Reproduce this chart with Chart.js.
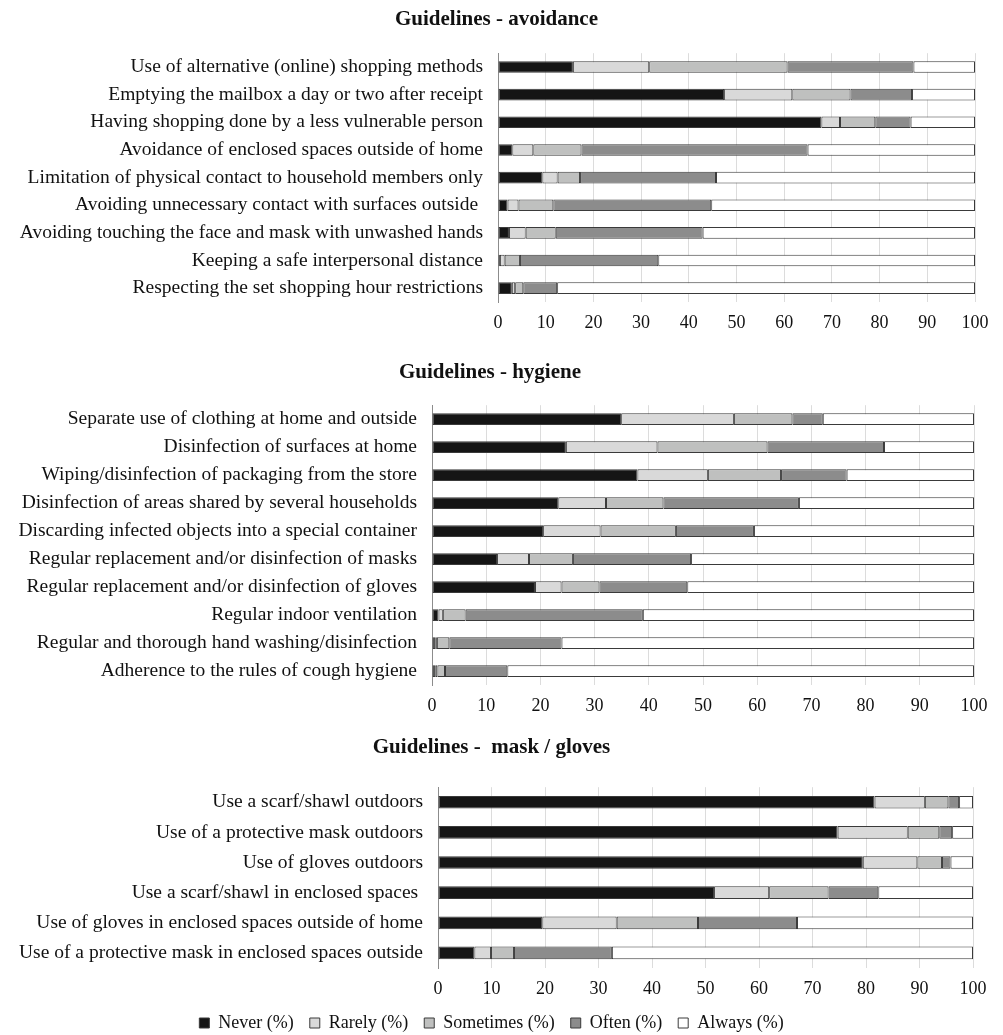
<!DOCTYPE html>
<html>
<head>
<meta charset="utf-8">
<script src="https://cdn.jsdelivr.net/npm/chart.js@4.4.1/dist/chart.umd.min.js"></script>
<style>
    html, body { margin: 0; padding: 0; background: #fff; overflow: hidden; }
    .box { position: absolute; left: 0; width: 1003px; }
</style>
</head>
<body>
<div class="box" style="top:0;height:345px"><canvas id="avoidChart"></canvas></div>
<div class="box" style="top:345px;height:375px"><canvas id="hygieneChart"></canvas></div>
<div class="box" style="top:720px;height:322px"><canvas id="maskChart"></canvas></div>
<script>
// Series names and x ticks
const seriesNames = ['Never (%)', 'Rarely (%)', 'Sometimes (%)', 'Often (%)', 'Always (%)'];
const xTicks = [0, 10, 20, 30, 40, 50, 60, 70, 80, 90, 100];

// Guidelines - avoidance
const avoidLabels = [
    'Use of alternative (online) shopping methods',
    'Emptying the mailbox a day or two after receipt',
    'Having shopping done by a less vulnerable person',
    'Avoidance of enclosed spaces outside of home',
    'Limitation of physical contact to household members only',
    'Avoiding unnecessary contact with surfaces outside ',
    'Avoiding touching the face and mask with unwashed hands',
    'Keeping a safe interpersonal distance',
    'Respecting the set shopping hour restrictions'
];
const avoidNever = [15.7, 47.4, 67.8, 3.0, 9.3, 2.0, 2.3, 0.4, 2.9];
const avoidRarely = [16.0, 14.3, 3.9, 4.4, 3.2, 2.3, 3.5, 1.0, 0.7];
const avoidSometimes = [29.0, 12.2, 7.4, 10.1, 4.7, 7.3, 6.3, 3.2, 1.7];
const avoidOften = [26.4, 12.9, 7.4, 47.4, 28.5, 33.1, 30.8, 29.0, 7.1];
const avoidAlways = [12.9, 13.2, 13.5, 35.1, 54.3, 55.3, 57.1, 66.4, 87.6];

// Guidelines - hygiene
const hygieneLabels = [
    'Separate use of clothing at home and outside',
    'Disinfection of surfaces at home',
    'Wiping/disinfection of packaging from the store',
    'Disinfection of areas shared by several households',
    'Discarding infected objects into a special container',
    'Regular replacement and/or disinfection of masks',
    'Regular replacement and/or disinfection of gloves',
    'Regular indoor ventilation',
    'Regular and thorough hand washing/disinfection',
    'Adherence to the rules of cough hygiene'
];
const hygieneNever = [34.9, 24.7, 37.9, 23.3, 20.5, 12.0, 19.0, 1.2, 0.6, 0.6];
const hygieneRarely = [20.8, 16.9, 13.0, 8.8, 10.6, 5.9, 4.9, 0.8, 0.3, 0.4];
const hygieneSometimes = [10.8, 20.3, 13.5, 10.6, 13.9, 8.1, 7.0, 4.2, 2.3, 1.4];
const hygieneOften = [5.6, 21.5, 12.1, 25.0, 14.4, 21.8, 16.2, 32.7, 20.7, 11.5];
const hygieneAlways = [27.9, 16.6, 23.5, 32.3, 40.6, 52.2, 52.9, 61.1, 76.1, 86.1];

// Guidelines - mask / gloves
const maskLabels = [
    'Use a scarf/shawl outdoors',
    'Use of a protective mask outdoors',
    'Use of gloves outdoors',
    'Use a scarf/shawl in enclosed spaces ',
    'Use of gloves in enclosed spaces outside of home',
    'Use of a protective mask in enclosed spaces outside'
];
const maskNever = [81.6, 74.7, 79.4, 51.6, 19.5, 6.8];
const maskRarely = [9.4, 13.1, 10.2, 10.3, 13.9, 3.1];
const maskSometimes = [4.4, 5.9, 4.6, 11.1, 15.2, 4.3];
const maskOften = [2.0, 2.4, 1.6, 9.3, 18.5, 18.3];
const maskAlways = [2.6, 3.9, 4.2, 17.7, 32.9, 67.5];

const fills = ['#151515', '#d9d9d9', '#bfc0bf', '#8c8c8c', '#ffffff'];
const FONT = "'Liberation Serif', 'Times New Roman', serif";

function buildDatasets(seriesList, barPct) {
    return seriesList.map((values, i) => ({
        label: seriesNames[i],
        data: values,
        backgroundColor: fills[i],
        borderColor: '#3a3a3a',
        borderWidth: 1,
        borderSkipped: false,
        categoryPercentage: 1,
        barPercentage: barPct
    }));
}

// plotLeft is the x pixel where the bars start; the y axis fills the gap left of it
function createStackedChart(canvasId, cfg) {
    const ctx = document.getElementById(canvasId).getContext('2d');
    return new Chart(ctx, {
        type: 'bar',
        data: {
            labels: cfg.labels,
            datasets: buildDatasets(cfg.series, cfg.barPct)
        },
        options: {
            indexAxis: 'y',
            responsive: true,
            maintainAspectRatio: false,
            animation: false,
            layout: { padding: { left: cfg.leftPad, right: cfg.rightPad, top: 0, bottom: 0 } },
            plugins: {
                title: {
                    display: true,
                    text: cfg.title,
                    color: '#111',
                    font: { family: FONT, size: 21, weight: 'bold' },
                    padding: { top: cfg.titleTop, bottom: cfg.titleBottom }
                },
                legend: cfg.legend ? {
                    display: true,
                    position: 'bottom',
                    labels: {
                        color: '#111',
                        font: { family: FONT, size: 18 },
                        boxWidth: 10,
                        boxHeight: 10,
                        padding: 16
                    }
                } : { display: false },
                tooltip: { enabled: false }
            },
            scales: {
                x: {
                    stacked: true,
                    min: 0,
                    max: 100,
                    afterBuildTicks: (axis) => { axis.ticks = xTicks.map(v => ({ value: v })); },
                    grid: { color: '#dcdcdc', lineWidth: 1, drawTicks: false },
                    border: { display: false },
                    ticks: {
                        color: '#111',
                        padding: 10,
                        font: { family: FONT, size: 18 }
                    },
                    afterFit: (axis) => { axis.height = cfg.xAxisHeight; }
                },
                y: {
                    stacked: true,
                    grid: { display: false, drawTicks: false },
                    border: { display: true, color: '#8c8c8c', width: 1 },
                    ticks: {
                        color: '#111',
                        padding: 15,
                        autoSkip: false,
                        font: { family: FONT, size: 19.5 }
                    },
                    afterFit: (axis) => { axis.width = cfg.plotLeft - cfg.leftPad; }
                }
            }
        }
    });
}

createStackedChart('avoidChart', {
    title: 'Guidelines - avoidance',
    labels: avoidLabels,
    series: [avoidNever, avoidRarely, avoidSometimes, avoidOften, avoidAlways],
    barPct: 0.42,
    titleTop: 7,
    titleBottom: 21,
    plotLeft: 498,
    leftPad: 18,
    rightPad: 28,
    xAxisHeight: 43
});

createStackedChart('hygieneChart', {
    title: 'Guidelines - hygiene',
    labels: hygieneLabels,
    series: [hygieneNever, hygieneRarely, hygieneSometimes, hygieneOften, hygieneAlways],
    barPct: 0.42,
    titleTop: 15,
    titleBottom: 20,
    plotLeft: 432,
    leftPad: 6,
    rightPad: 29,
    xAxisHeight: 35
});

createStackedChart('maskChart', {
    title: 'Guidelines -  mask / gloves',
    labels: maskLabels,
    series: [maskNever, maskRarely, maskSometimes, maskOften, maskAlways],
    barPct: 0.42,
    titleTop: 15,
    titleBottom: 27,
    plotLeft: 438,
    leftPad: 10,
    rightPad: 30,
    xAxisHeight: 30,
    legend: true
});
</script>
</body>
</html>
